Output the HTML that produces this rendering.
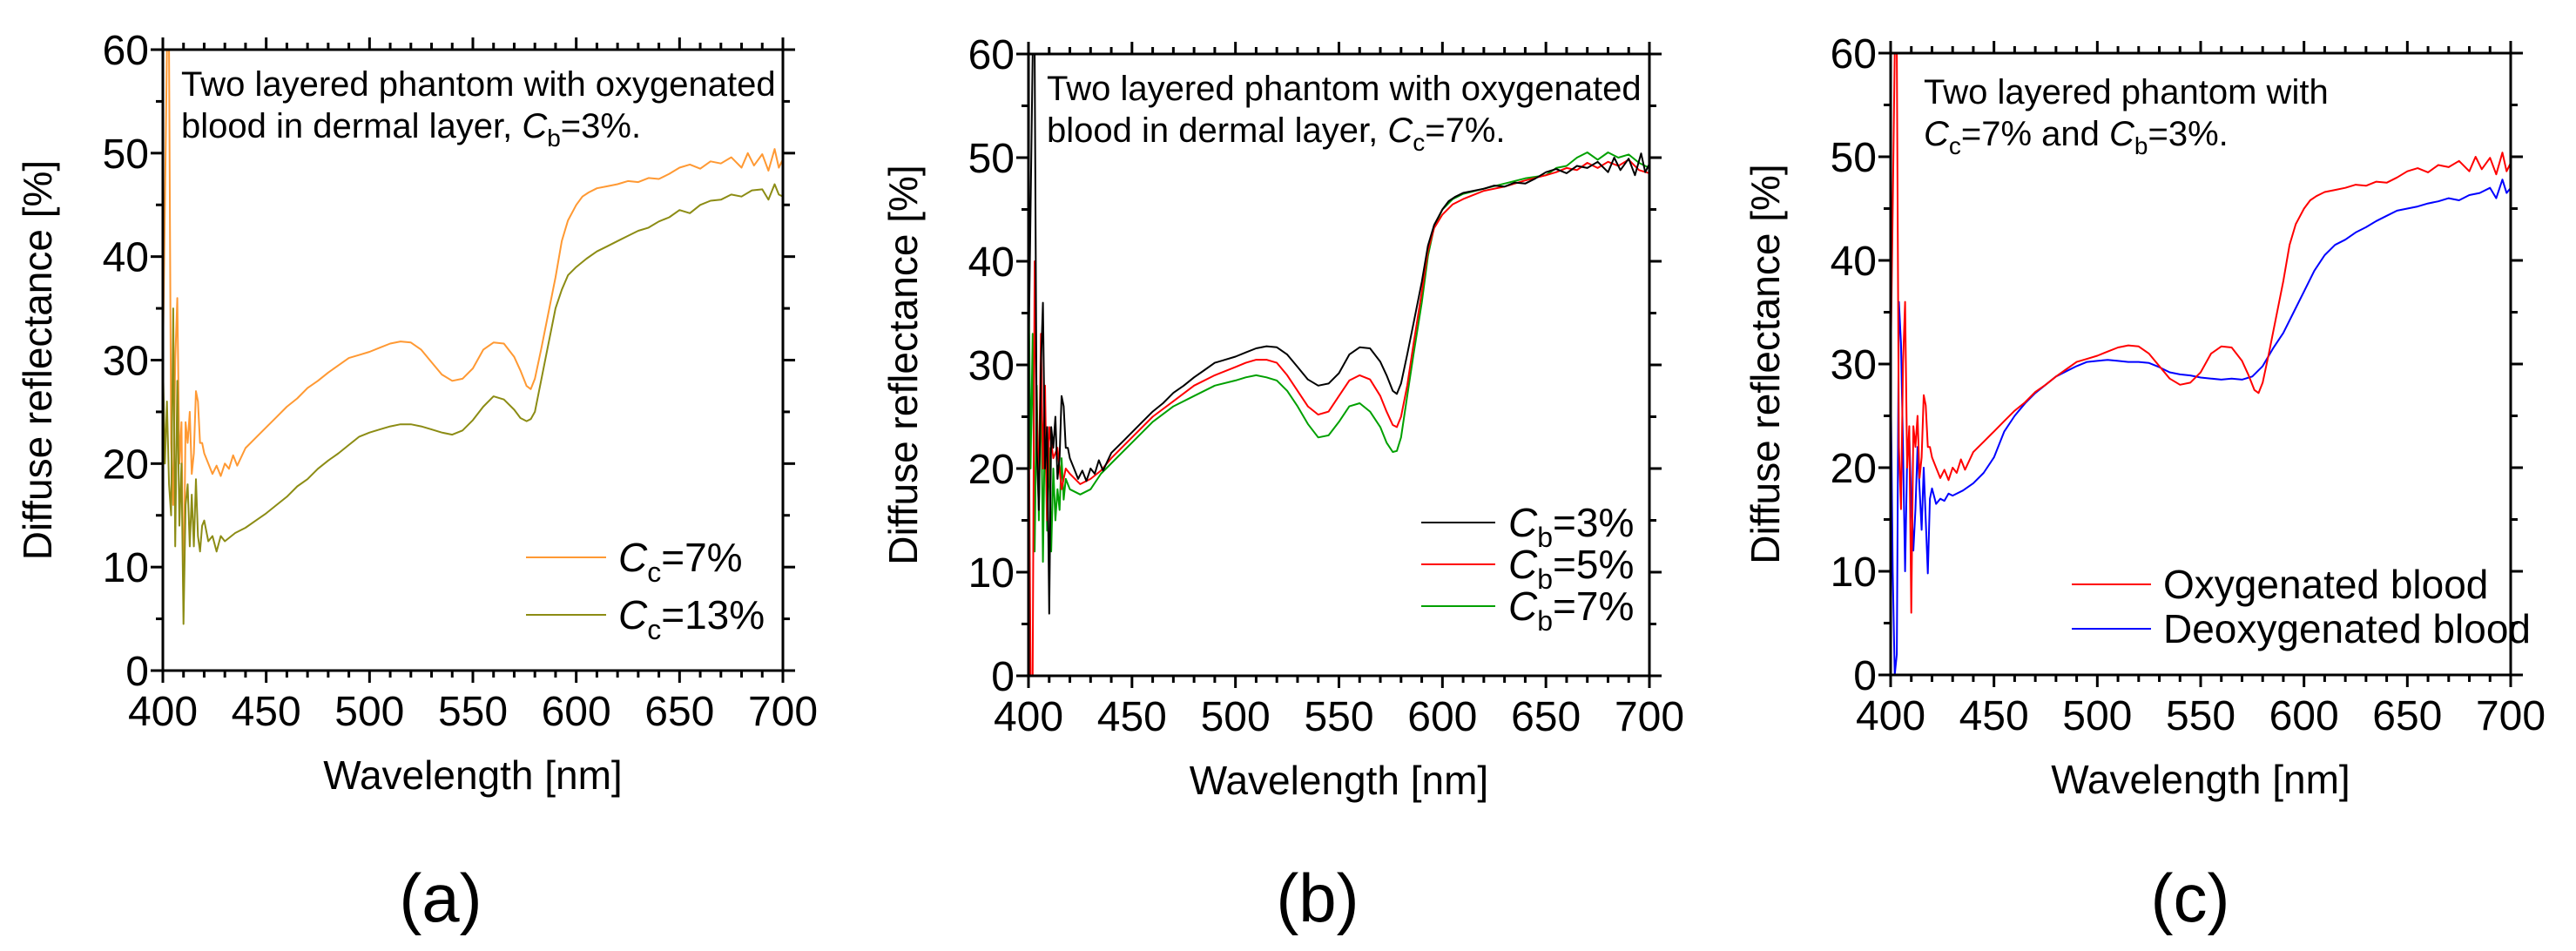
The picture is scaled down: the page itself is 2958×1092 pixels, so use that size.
<!DOCTYPE html>
<html><head><meta charset="utf-8">
<style>
body{margin:0;background:#fff;}
svg{display:block;font-family:"Liberation Sans",Arial,sans-serif;}
</style></head>
<body>
<svg id="fig" width="2958" height="1092" viewBox="0 0 2958 1092" xmlns="http://www.w3.org/2000/svg"></svg>
<script>
// ---------- data ----------
const xTicks = [400,450,500,550,600,650,700];
const yTicks = [0,10,20,30,40,50,60];

// Oxygenated, Cb=3%, Cc=7% (panel a orange, b black, c red)
const oxyWl = [400,401,402,403,404,405,406,407,408,409,410,411,412,413,414,415,416,417,418,419,420,422,424,426,428,430,432,434,436,440,445,450,455,460,465,470,475,480,485,490,495,500,505,510,515,520,525,530,535,540,545,550,555,560,565,570,573,576,578,580,583,586,590,593,596,600,603,606,610,615,620,625,630,635,640,645,650,655,660,665,670,675,680,683,686,690,693,696,698,700];
const oxyR  = [30,45,60,60,22,16,30,36,20,24,6,24,22,25,19,21,27,26,22,22,21,20,19,19.8,18.8,20,19.5,20.8,19.8,21.5,22.5,23.5,24.5,25.5,26.3,27.3,28,28.8,29.5,30.2,30.5,30.8,31.2,31.6,31.8,31.7,31,29.8,28.6,28,28.2,29.2,31,31.7,31.6,30.3,29,27.5,27.2,28.2,31,34,38,41.5,43.5,45,45.8,46.2,46.6,46.8,47,47.3,47.2,47.6,47.5,48,48.6,48.9,48.5,49.2,49,49.6,48.6,50,48.8,49.9,48.3,50.4,48.6,49.4];

// Cc=13% (panel a olive)
const c13Wl = [400,401,402,403,404,405,406,407,408,409,410,411,412,413,414,415,416,417,418,419,420,422,424,426,428,430,435,440,445,450,455,460,465,470,475,480,485,490,495,500,505,510,515,520,525,530,535,540,545,550,555,560,565,570,573,576,578,580,583,586,590,593,596,600,605,610,615,620,625,630,635,640,645,650,655,660,665,670,675,680,685,690,693,696,698,700];
const c13R  = [30,20,26,18,15,35,12,28,14,20,4.5,16,18,12,17,12,18.5,13,11.5,14,14.5,12.5,13,11.5,13,12.5,13.3,13.8,14.5,15.2,16,16.8,17.8,18.5,19.5,20.3,21,21.8,22.6,23,23.3,23.6,23.8,23.8,23.6,23.3,23,22.8,23.2,24.2,25.5,26.5,26.2,25.2,24.4,24.1,24.3,25,28,31,35,36.8,38.2,39,39.8,40.5,41,41.5,42,42.5,42.8,43.4,43.8,44.5,44.2,45,45.4,45.5,46,45.8,46.4,46.5,45.5,47,46,45.8];

// panel b: Cb=5% (red), Cb=7% (green)
const b5Wl = [400,401,402,403,404,405,406,407,408,409,410,412,414,416,418,420,425,430,435,440,450,460,470,480,490,500,505,510,515,520,525,530,535,540,545,550,555,560,565,570,573,576,578,580,583,586,590,593,596,600,605,610,620,630,640,650,655,660,665,670,675,680,685,690,695,700];
const b5R  = [30,0,0,40,25,18,33,20,28,15,24,21,22,18,20,19.5,18.5,19,19.8,21,23,25,26.5,28,29,29.8,30.2,30.5,30.5,30.2,29,27.5,26,25.2,25.5,27,28.5,29,28.6,27,25.5,24.2,24,25,28,32,37,41,43.2,44.5,45.5,46,46.8,47.2,47.8,48.3,48.6,49,48.8,49.5,49,49.6,49.2,49.8,48.8,48.5];
const b7Wl = [400,401,402,403,404,405,406,407,408,409,410,411,412,413,414,415,416,417,418,420,425,430,435,440,450,460,470,480,490,500,505,510,515,520,525,530,535,540,545,550,555,560,565,570,573,576,578,580,583,586,590,593,596,600,605,610,620,630,640,650,655,660,665,670,675,680,685,690,695,700];
const b7R  = [40,20,33,12,28,15,30,11,25,14,22,12,20,15,18,16,21,17,19,18,17.5,18,19.5,20.5,22.5,24.5,26,27,28,28.5,28.8,29,28.8,28.5,27.5,26,24.3,23,23.2,24.5,26,26.3,25.5,24,22.5,21.6,21.7,23,27,31,36,40.5,43.3,45,46,46.5,47,47.5,48,48.3,49,49.2,50,50.5,49.8,50.5,50,50.3,49.5,49];

// panel c: deoxygenated (blue)
const deoWl = [400,401,402,403,404,405,406,407,408,409,410,411,412,413,414,415,416,417,418,419,420,422,424,426,428,430,435,440,445,450,455,460,465,470,475,480,485,490,495,500,505,510,515,520,525,530,535,540,545,550,555,560,565,570,575,580,585,590,595,600,605,610,615,620,625,630,635,640,645,650,655,660,665,670,675,680,685,690,693,696,698,700];
const deoR  = [29,10,0,2,36,32,22,10,21,23,17,12,16,22,18,14,20,15,9.8,17,18,16.5,17,16.8,17.5,17.3,17.8,18.5,19.5,21,23.5,25,26.2,27.2,28,28.8,29.3,29.8,30.2,30.3,30.4,30.3,30.2,30.2,30.1,29.7,29.2,29,28.9,28.7,28.6,28.5,28.6,28.5,28.8,29.8,31.5,33,35,37,39,40.5,41.5,42,42.7,43.2,43.8,44.3,44.8,45,45.2,45.5,45.7,46,45.8,46.3,46.5,47,46,47.8,46.5,47];

// ---------- drawing ----------
const NS = "http://www.w3.org/2000/svg";
const svg = document.getElementById('fig');
function mk(tag, attrs, parent){
  const e = document.createElementNS(NS, tag);
  for (const k in attrs) e.setAttribute(k, attrs[k]);
  (parent||svg).appendChild(e);
  return e;
}

const panels = [
  {id:'a', L:187, R:899, T:57, B:770, label:'(a)', labelX:506,
   series:[{name:'cc-7-line', wl:oxyWl, v:oxyR, color:'#ff9933'},
           {name:'cc-13-line', wl:c13Wl, v:c13R, color:'#8c8c14'}]},
  {id:'b', L:1181, R:1894, T:62, B:776, label:'(b)', labelX:1513,
   series:[{name:'cb-7-line', wl:b7Wl, v:b7R, color:'#00a000'},
           {name:'cb-5-line', wl:b5Wl, v:b5R, color:'#ff0000'},
           {name:'cb-3-line', wl:oxyWl, v:oxyR, color:'#000000'}]},
  {id:'c', L:2171, R:2883, T:61, B:775, label:'(c)', labelX:2515,
   series:[{name:'deoxygenated-line', wl:deoWl, v:deoR, color:'#0000ff'},
           {name:'oxygenated-line', wl:oxyWl, v:oxyR, color:'#ff0000'}]}
];

panels.forEach(p=>{
  const g = mk('g',{});
  
  
  const xs = w => p.L + (w-400)/300*(p.R-p.L);
  const ys = v => p.B - v/60*(p.B-p.T);
  const cid = 'clip'+p.id;
  const cp = mk('clipPath',{id:cid},g);
  mk('rect',{x:p.L,y:p.T,width:p.R-p.L,height:p.B-p.T},cp);

  p.series.forEach(s=>{
    const d = s.wl.map((w,i)=>(i?'L':'M')+xs(w).toFixed(1)+' '+ys(s.v[i]).toFixed(1)).join(' ');
    const path = mk('path',{d:d,fill:'none',stroke:s.color,'stroke-width':2,'stroke-linejoin':'round','clip-path':'url(#'+cid+')'},g);
    
    
  });

  const fr = mk('rect',{x:p.L,y:p.T,width:p.R-p.L,height:p.B-p.T,fill:'none',stroke:'#000','stroke-width':3},g);
  
  

  for(let w=400; w<=700; w+=10){
    const major = (w%50===0);
    const len = major?14:8;
    const x = xs(w);
    mk('line',{x1:x,y1:p.B,x2:x,y2:p.B+len,stroke:'#000','stroke-width':3},g);
    mk('line',{x1:x,y1:p.T,x2:x,y2:p.T-len,stroke:'#000','stroke-width':3},g);
  }
  xTicks.forEach(w=>{
    const t = mk('text',{x:xs(w),y:p.B+63,'font-size':48,'text-anchor':'middle'},g);
    t.textContent = w;
    
    
  });
  for(let v=0; v<=60; v+=5){
    const major = (v%10===0);
    const len = major?14:8;
    const y = ys(v);
    mk('line',{x1:p.L,y1:y,x2:p.L-len,y2:y,stroke:'#000','stroke-width':3},g);
    mk('line',{x1:p.R,y1:y,x2:p.R+len,y2:y,stroke:'#000','stroke-width':3},g);
  }
  yTicks.forEach(v=>{
    const t = mk('text',{x:p.L-16,y:ys(v)+17,'font-size':48,'text-anchor':'end'},g);
    t.textContent = v;
    
    
  });
  const xt = mk('text',{x:(p.L+p.R)/2,y:p.B+136,'font-size':46,'text-anchor':'middle'},g);
  xt.textContent = 'Wavelength [nm]';
  
  
  const cy = (p.T+p.B)/2;
  const yt = mk('text',{x:p.L-128,y:cy,'font-size':46,'text-anchor':'middle',transform:'rotate(-90 '+(p.L-128)+' '+cy+')'},g);
  yt.textContent = 'Diffuse reflectance [%]';
  
  
  const pl = mk('text',{x:p.labelX,y:1058,'font-size':78,'text-anchor':'middle'},g);
  pl.textContent = p.label;
  
  
  p.g = g;
});

function note(g, x, y, html, name){
  const t = mk('text',{x:x,y:y,'font-size':40},g);
  t.innerHTML = html;
  
  
  return t;
}
const sub = (s)=>'<tspan font-style="italic">C</tspan><tspan font-size="28" dy="10">'+s+'</tspan><tspan dy="-10">';
note(panels[0].g, 208, 110, 'Two layered phantom with oxygenated', 'annotation-line-1');
note(panels[0].g, 208, 158, 'blood in dermal layer, '+sub('b')+'=3%.</tspan>', 'annotation-line-2');
note(panels[1].g, 1202, 115, 'Two layered phantom with oxygenated', 'annotation-line-1');
note(panels[1].g, 1202, 163, 'blood in dermal layer, '+sub('c')+'=7%.</tspan>', 'annotation-line-2');
note(panels[2].g, 2209, 119, 'Two layered phantom with', 'annotation-line-1');
note(panels[2].g, 2209, 167, sub('c')+'=7% and </tspan>'+sub('b')+'=3%.</tspan>', 'annotation-line-2');

function legend(g, x1, x2, tx, y, color, html, name){
  const lg = mk('g',{},g);
  
  
  mk('line',{x1:x1,y1:y,x2:x2,y2:y,stroke:color,'stroke-width':2},lg);
  const t = mk('text',{x:tx,y:y+16,'font-size':46},lg);
  t.innerHTML = html;
}
const lsub = (s)=>'<tspan font-style="italic">C</tspan><tspan font-size="32" dy="12">'+s+'</tspan><tspan dy="-12">';
legend(panels[0].g, 604, 696, 710, 640, '#ff9933', lsub('c')+'=7%</tspan>', 'legend-entry-cc-7');
legend(panels[0].g, 604, 696, 710, 706, '#8c8c14', lsub('c')+'=13%</tspan>', 'legend-entry-cc-13');
legend(panels[1].g, 1632, 1717, 1732, 600, '#000000', lsub('b')+'=3%</tspan>', 'legend-entry-cb-3');
legend(panels[1].g, 1632, 1717, 1732, 648, '#ff0000', lsub('b')+'=5%</tspan>', 'legend-entry-cb-5');
legend(panels[1].g, 1632, 1717, 1732, 696, '#00a000', lsub('b')+'=7%</tspan>', 'legend-entry-cb-7');
legend(panels[2].g, 2379, 2470, 2484, 671, '#ff0000', 'Oxygenated blood', 'legend-entry-oxygenated');
legend(panels[2].g, 2379, 2470, 2484, 722, '#0000ff', 'Deoxygenated blood', 'legend-entry-deoxygenated');
</script>
</body></html>
